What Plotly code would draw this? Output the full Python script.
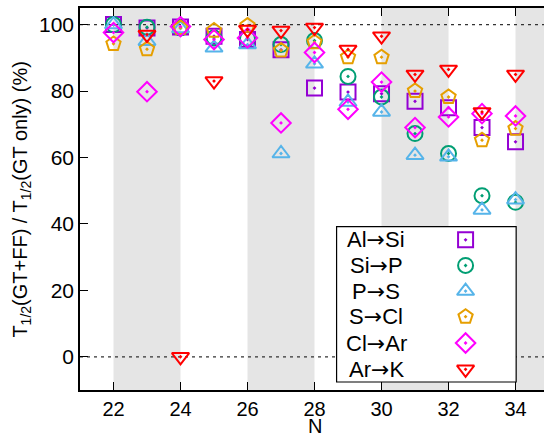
import plotly.graph_objects as go

# Neutron number
N = [22, 23, 24, 25, 26, 27, 28, 29, 30, 31, 32, 33, 34]

# Half-life ratio T1/2(GT+FF) / T1/2(GT only) in percent, per transition
al_si = [100.0, 99.0, 99.3, 96.5, 95.5, 92.4, 80.9, 79.7, 79.2, 76.9, 75.0, 69.0, 64.7]
si_p = [100.0, 99.2, 99.0, 96.0, 95.8, 94.0, 95.2, 84.4, 78.2, 67.2, 61.2, 48.5, 46.5]
p_s = [100.0, 95.0, 98.8, 93.0, 94.0, 61.2, 88.2, 76.7, 73.7, 60.7, 60.2, 44.2, 47.3]
s_cl = [94.2, 92.6, 99.0, 98.2, 99.7, 92.2, 94.7, 90.2, 90.2, 80.0, 78.2, 65.2, 68.7]
cl_ar = [97.6, 79.8, 99.4, 95.5, 96.0, 70.4, 91.6, 74.5, 82.7, 69.0, 72.2, 73.2, 72.5]
ar_k = [None, 97.0, 0.0, 83.0, 98.5, 98.2, 99.1, 92.5, 96.5, 85.0, 86.5, 73.7, 85.0]

parent = ["Al", "Si", "P", "S", "Cl", "Ar"]
daughter = ["Si", "P", "S", "Cl", "Ar", "K"]
labels = [f"{p}\u2192{d}" for p, d in zip(parent, daughter)]
series = [al_si, si_p, p_s, s_cl, cl_ar, ar_k]
symbols = ["square-open-dot", "circle-open-dot", "triangle-up-open-dot",
           "pentagon-open-dot", "diamond-open-dot", "triangle-down-open-dot"]
colors = ["#9400D3", "#009E73", "#56B4E9", "#E69F00", "#FF00FF", "#FF0000"]

shaded_bands = [(22, 24), (26, 28), (30, 32), (34, 36)]
x_ticks = [22, 24, 26, 28, 30, 32, 34]
y_ticks = [0, 20, 40, 60, 80, 100]

FONT = "Liberation Sans, Arial, sans-serif"
ARROW = ('<span style="font-family:\'DejaVu Sans\'">'
         '\u2192</span>')

fig = go.Figure()

for vals, lab, sym, col in zip(series, labels, symbols, colors):
    fig.add_trace(go.Scatter(
        x=N, y=vals, mode="markers", name=lab, showlegend=False,
        marker=dict(symbol=sym, size=15, color=col,
                    line=dict(color=col, width=2)),
    ))

# hand-built key: text on the left, symbol on the right, inside a framed box
key_y = [0.393, 0.326, 0.259, 0.192, 0.123, 0.054]
key_text_x = 0.638
key_mark_x = 0.831
for p, d, sym, col, ky in zip(parent, daughter, symbols, colors, key_y):
    fig.add_trace(go.Scatter(
        x=[key_mark_x], y=[ky], mode="markers", showlegend=False,
        xaxis="x2", yaxis="y3", hoverinfo="skip",
        marker=dict(symbol=sym, size=15, color=col,
                    line=dict(color=col, width=2)),
    ))
    fig.add_annotation(x=key_text_x, y=ky, xref="paper", yref="paper",
                       text=f"{p}{ARROW}{d}", showarrow=False,
                       xanchor="center", yanchor="middle",
                       font=dict(family=FONT, size=22, color="black"))

shapes = []
for a, b in shaded_bands:
    shapes.append(dict(type="rect", xref="x", yref="paper", x0=a, x1=b,
                       y0=0, y1=1, fillcolor="#E5E5E5", line=dict(width=0),
                       layer="below"))
for yv in (0, 100):
    shapes.append(dict(type="line", xref="paper", yref="y", x0=0, x1=1,
                       y0=yv, y1=yv, layer="below",
                       line=dict(color="#333333", width=1.3, dash="3px,4px")))
shapes.append(dict(type="rect", xref="x2", yref="y3", x0=0.553, x1=0.940,
                   y0=0.021, y1=0.4275, fillcolor="white",
                   line=dict(color="black", width=1.2), layer="below"))

fig.update_layout(
    width=544, height=438,
    margin=dict(l=80, r=0, t=8, b=48),
    paper_bgcolor="white", plot_bgcolor="white",
    font=dict(family=FONT, size=20, color="black"),
    shapes=shapes,
    xaxis=dict(range=[21, 34.85], tickvals=x_ticks, ticks="inside", ticklen=8,
               tickwidth=1.2, tickcolor="black", showline=True,
               linecolor="black", linewidth=1.5, mirror="ticks",
               showgrid=False, zeroline=False,
               tickfont=dict(family=FONT, size=20)),
    yaxis=dict(range=[-10, 105], tickvals=y_ticks, ticks="inside", ticklen=8,
               tickwidth=1.2, tickcolor="black", showline=True,
               linecolor="black", linewidth=1.5, mirror=False,
               showgrid=False, zeroline=False,
               tickfont=dict(family=FONT, size=21)),
    yaxis2=dict(range=[-10, 105], overlaying="y", side="right", anchor="x",
                tickvals=y_ticks, ticks="inside", ticklen=3, tickwidth=1.2,
                tickcolor="black", showticklabels=False, showline=False,
                showgrid=False, zeroline=False),
    xaxis2=dict(range=[0, 1], overlaying="x", visible=False, anchor="y3"),
    yaxis3=dict(range=[0, 1], overlaying="y", visible=False, anchor="x2"),
)

fig.add_annotation(x=28, y=-0.1257, xref="x", yref="paper", text="N",
                   showarrow=False, xanchor="center", yanchor="bottom",
                   borderpad=0,
                   font=dict(family=FONT, size=20, color="black"))
fig.add_annotation(x=-0.128, y=0.5, xref="paper", yref="paper",
                   text="T<sub>1/2</sub>(GT+FF) / T<sub>1/2</sub>(GT only) (%)",
                   textangle=-90, showarrow=False, xanchor="center",
                   yanchor="middle",
                   font=dict(family=FONT, size=20, color="black"))

fig.write_html("out.html")
